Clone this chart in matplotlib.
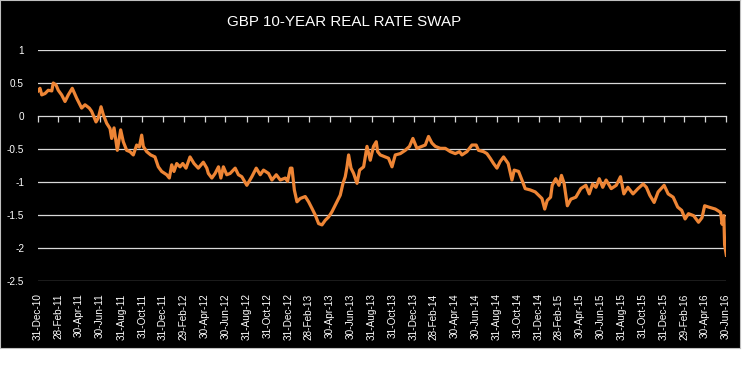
import matplotlib
matplotlib.use("Agg")
import matplotlib.pyplot as plt
import pandas as pd
import numpy as np

title = "GBP 10-YEAR REAL RATE SWAP"

# decimal-year dates and values
dec_years = [
    2011.000, 2011.016, 2011.030, 2011.056, 2011.082, 2011.110, 2011.122, 2011.144, 2011.162, 2011.189,
    2011.216, 2011.242, 2011.274, 2011.309, 2011.349, 2011.376, 2011.410, 2011.429, 2011.464, 2011.482,
    2011.504, 2011.522, 2011.549, 2011.576, 2011.589, 2011.608, 2011.634, 2011.661, 2011.682, 2011.709,
    2011.735, 2011.762, 2011.789, 2011.810, 2011.829, 2011.842, 2011.869, 2011.901, 2011.935, 2011.962,
    2011.989, 2012.029, 2012.050, 2012.069, 2012.087, 2012.109, 2012.135, 2012.157, 2012.183, 2012.215,
    2012.247, 2012.281, 2012.321, 2012.349, 2012.361, 2012.389, 2012.415, 2012.442, 2012.461, 2012.481,
    2012.508, 2012.535, 2012.575, 2012.601, 2012.628, 2012.668, 2012.708, 2012.743, 2012.775, 2012.801,
    2012.841, 2012.868, 2012.903, 2012.935, 2012.975, 2012.993, 2013.015, 2013.028, 2013.047, 2013.068,
    2013.094, 2013.134, 2013.161, 2013.188, 2013.214, 2013.241, 2013.268, 2013.294, 2013.321, 2013.348,
    2013.388, 2013.414, 2013.436, 2013.454, 2013.468, 2013.481, 2013.500, 2013.521, 2013.548, 2013.569,
    2013.601, 2013.628, 2013.654, 2013.680, 2013.702, 2013.713, 2013.734, 2013.774, 2013.800, 2013.828,
    2013.854, 2013.894, 2013.934, 2013.968, 2013.995, 2014.027, 2014.067, 2014.094, 2014.120, 2014.147,
    2014.174, 2014.214, 2014.254, 2014.294, 2014.334, 2014.368, 2014.387, 2014.427, 2014.467, 2014.501,
    2014.520, 2014.560, 2014.587, 2014.613, 2014.640, 2014.667, 2014.693, 2014.720, 2014.757, 2014.787,
    2014.805, 2014.840, 2014.867, 2014.893, 2014.933, 2014.973, 2015.000, 2015.027, 2015.049, 2015.069,
    2015.096, 2015.109, 2015.137, 2015.163, 2015.183, 2015.204, 2015.230, 2015.258, 2015.298, 2015.338,
    2015.378, 2015.405, 2015.432, 2015.459, 2015.485, 2015.513, 2015.540, 2015.581, 2015.621, 2015.655,
    2015.682, 2015.714, 2015.755, 2015.795, 2015.836, 2015.862, 2015.889, 2015.924, 2015.956, 2016.004,
    2016.036, 2016.076, 2016.112, 2016.144, 2016.171, 2016.198, 2016.239, 2016.278, 2016.306, 2016.327,
    2016.359, 2016.412, 2016.454, 2016.466, 2016.480, 2016.486, 2016.495, 2016.500,
]
swap_rate = [
    0.38, 0.42, 0.32, 0.34, 0.39, 0.38, 0.50, 0.47, 0.39, 0.32,
    0.22, 0.32, 0.42, 0.27, 0.12, 0.17, 0.12, 0.07, -0.09, -0.03,
    0.14, 0.02, -0.11, -0.19, -0.34, -0.18, -0.52, -0.21, -0.39, -0.52,
    -0.54, -0.59, -0.44, -0.47, -0.29, -0.46, -0.54, -0.59, -0.62, -0.77,
    -0.84, -0.89, -0.94, -0.74, -0.84, -0.72, -0.77, -0.72, -0.79, -0.62,
    -0.72, -0.79, -0.70, -0.79, -0.87, -0.94, -0.87, -0.77, -0.94, -0.77,
    -0.89, -0.87, -0.79, -0.89, -0.92, -1.05, -0.92, -0.79, -0.89, -0.82,
    -0.87, -0.97, -0.89, -0.97, -0.94, -0.99, -0.79, -0.79, -1.12, -1.30,
    -1.25, -1.22, -1.30, -1.40, -1.50, -1.63, -1.65, -1.58, -1.53, -1.45,
    -1.30, -1.20, -1.02, -0.92, -0.77, -0.59, -0.79, -0.87, -1.02, -0.82,
    -0.77, -0.46, -0.67, -0.46, -0.39, -0.54, -0.59, -0.62, -0.64, -0.77,
    -0.59, -0.57, -0.52, -0.46, -0.34, -0.49, -0.46, -0.44, -0.31, -0.41,
    -0.46, -0.49, -0.49, -0.54, -0.57, -0.54, -0.59, -0.54, -0.44, -0.44,
    -0.52, -0.54, -0.57, -0.64, -0.72, -0.79, -0.69, -0.62, -0.72, -0.97,
    -0.82, -0.84, -0.97, -1.10, -1.12, -1.15, -1.20, -1.25, -1.41, -1.28,
    -1.23, -1.05, -0.95, -1.05, -0.90, -1.02, -1.36, -1.26, -1.23, -1.10,
    -1.05, -1.18, -1.03, -1.08, -0.95, -1.08, -0.97, -1.10, -1.05, -0.92,
    -1.18, -1.08, -1.18, -1.10, -1.03, -1.08, -1.20, -1.31, -1.15, -1.05,
    -1.18, -1.23, -1.38, -1.43, -1.56, -1.48, -1.51, -1.61, -1.54, -1.36,
    -1.38, -1.41, -1.46, -1.64, -1.51, -1.95, -2.05, -2.11,
]

tick_labels = [
    "31-Dec-10", "28-Feb-11", "30-Apr-11", "30-Jun-11", "31-Aug-11", "31-Oct-11",
    "31-Dec-11", "29-Feb-12", "30-Apr-12", "30-Jun-12", "31-Aug-12", "31-Oct-12",
    "31-Dec-12", "28-Feb-13", "30-Apr-13", "30-Jun-13", "31-Aug-13", "31-Oct-13",
    "31-Dec-13", "28-Feb-14", "30-Apr-14", "30-Jun-14", "31-Aug-14", "31-Oct-14",
    "31-Dec-14", "28-Feb-15", "30-Apr-15", "30-Jun-15", "31-Aug-15", "31-Oct-15",
    "31-Dec-15", "29-Feb-16", "30-Apr-16", "30-Jun-16",
]
y_ticks = [1, 0.5, 0, -0.5, -1, -1.5, -2, -2.5]
y_tick_labels = ["1", "0.5", "0", "-0.5", "-1", "-1.5", "-2", "-2.5"]


def dec_to_date(y):
    yr = int(np.floor(y))
    start = pd.Timestamp(year=yr, month=1, day=1)
    ndays = (pd.Timestamp(year=yr + 1, month=1, day=1) - start).days
    return start + pd.Timedelta(days=(y - yr) * ndays) - pd.Timedelta(days=1)


dates = [dec_to_date(v) for v in dec_years]
tick_dates = pd.to_datetime(tick_labels, format="%d-%b-%y")

W, H = 742, 386
fig = plt.figure(figsize=(W / 100, H / 100), dpi=100, facecolor="white")

# black chart area (background axes)
bg = fig.add_axes([0, 38 / H, 740 / W, 348 / H], zorder=-5)
bg.set_facecolor("black")
bg.set_xticks([])
bg.set_yticks([])
for s in bg.spines.values():
    s.set_color("#BFBFBF")
    s.set_linewidth(0.8)

ax = fig.add_axes([38 / W, (H - 281) / H, (726 - 38) / W, (281 - 50) / H], zorder=1)
ax.set_facecolor("none")

for yv in y_ticks:
    if yv != 0:
        ax.axhline(yv, color="#D9D9D9", linewidth=0.9, zorder=1)

ax.plot(dates, swap_rate, color="#EE8535", linewidth=2.3, solid_joinstyle="round", zorder=3)

ax.set_xlim(tick_dates[0], tick_dates[-1])
ax.set_ylim(-2.5, 1)

# zero axis line with tick marks
for s in ["top", "right", "left"]:
    ax.spines[s].set_visible(False)
ax.spines["bottom"].set_position(("data", 0))
ax.spines["bottom"].set_color("#D9D9D9")
ax.spines["bottom"].set_linewidth(0.9)
ax.set_xticks(tick_dates)
ax.tick_params(axis="x", direction="out", length=4, width=0.9, color="#D9D9D9",
               labelbottom=False)

ax.set_yticks(y_ticks)
ax.set_yticklabels(y_tick_labels)
ax.tick_params(axis="y", length=0, pad=10, labelcolor="white", labelsize=7.2)
for t in ax.get_yticklabels():
    t.set_fontfamily(["Liberation Sans", "DejaVu Sans"])

# labels at bottom (low position)
sec = ax.secondary_xaxis("bottom")
sec.set_xticks(tick_dates)
sec.set_xticklabels(tick_labels, rotation=90, fontsize=7.2, color="white",
                    family=["Liberation Sans", "DejaVu Sans"])
sec.tick_params(axis="x", length=0, pad=9)
sec.spines["bottom"].set_visible(False)

fig.text(344 / W, 1 - 22 / H, title, ha="center", va="center", color="white",
         fontsize=10.9, family=["Liberation Sans", "DejaVu Sans"])

fig.savefig("out.png", dpi=100, facecolor="white")
